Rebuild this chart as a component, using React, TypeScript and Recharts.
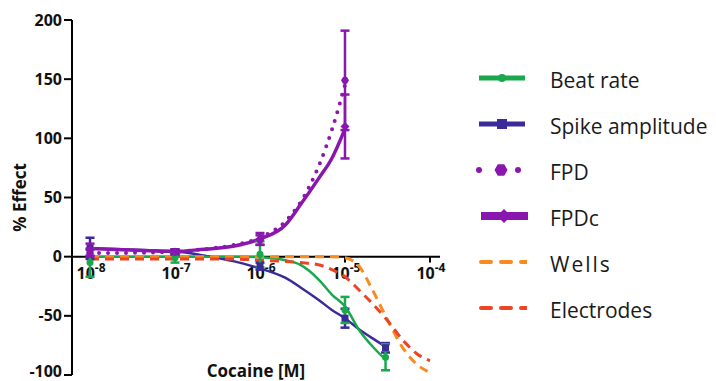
import React from "react";
import {
  ComposedChart,
  Line,
  Scatter,
  ErrorBar,
  XAxis,
  YAxis,
  ReferenceLine,
} from "recharts";

// measured concentrations (M)
const CONC = [1e-8, 1e-7, 1e-6, 1e-5, 3e-5];
const BEAT_MEAN = [-5, -1, 2, -45, -85];
const BEAT_SEM = [12, 4, 11, 11, 11];
const SPIKE_MEAN = [7, 4, -8, -52, -77];
const SPIKE_SEM = [9, 2, 3, 8, 4];
const FPD_MEAN = [3, 4, 14, 149, null];
const FPD_SEM = [3, 2, 4, 42, null];
const FPDC_MEAN = [6, 4, 15, 110, null];
const FPDC_SEM = [5, 2, 5, 27, null];

// fitted curves
const FIT_CONC = [
  1e-8, 2e-8, 5e-8, 1e-7, 2e-7, 5e-7, 1e-6, 2e-6, 3e-6, 5e-6, 7e-6, 1e-5,
  1.5e-5, 2e-5, 3e-5, 5e-5, 7e-5, 1e-4,
];
const BEAT_FIT = [0, 0, 0, 0, 0, 0, -0.5, -3, -7, -20, -32, -42, -63, -74, -87, null, null, null];
const SPIKE_FIT = [7, 6.5, 5.5, 4.5, 1.5, -4, -10, -18, -26, -37, -45, -52, -62, -68, -76, null, null, null];
const FPD_FIT = [3, 3, 3.5, 4, 6, 10, 16, 30, 46, 78, 107, 145, null, null, null, null, null, null];
const FPDC_FIT = [7, 6, 5, 4.5, 6, 9, 15, 27, 44, 67, 83, 108, null, null, null, null, null, null];
const WELLS_FIT = [0, 0, 0, 0, 0, 0, 0, 0, 0, 0, 0, -1, -9, -25, -50, -79, -91, -98];
const ELEC_FIT = [-2, -2, -2, -2, -2, -2, -3, -4, -5, -7, -11, -17, -29, -38, -52, -72, -82, -88];

const X_TICK_EXP = [-8, -7, -6, -5, -4];
const Y_TICKS = [-100, -50, 0, 50, 100, 150, 200];

const GREEN = "#19a84c";
const BLUE = "#3b2a9a";
const PURPLE = "#8a17ad";
const ORANGE = "#f78b1f";
const RED = "#ec4426";
const FONT = "'Open Sans', sans-serif";

const fitData = (vals: (number | null)[]) =>
  FIT_CONC.map((conc, i) => ({ conc, val: vals[i] })).filter((d) => d.val !== null);

const pointData = (means: (number | null)[], sems: (number | null)[]) =>
  CONC.map((conc, i) => ({ conc, val: means[i], err: sems[i] })).filter((d) => d.val !== null);

const circle = (r: number) => (p: any) => <circle cx={p.cx} cy={p.cy} r={r} fill={p.fill} />;
const square = (s: number) => (p: any) => (
  <rect x={p.cx - s / 2} y={p.cy - s / 2} width={s} height={s} fill={p.fill} />
);
const diamond = (s: number) => (p: any) => (
  <polygon
    points={`${p.cx},${p.cy - s} ${p.cx + s},${p.cy} ${p.cx},${p.cy + s} ${p.cx - s},${p.cy}`}
    fill={p.fill}
  />
);
const hexagon = (r: number) => (p: any) => {
  const pts = [0, 1, 2, 3, 4, 5]
    .map((k) => {
      const a = (Math.PI / 3) * k;
      return `${p.cx + r * Math.cos(a)},${p.cy + r * Math.sin(a)}`;
    })
    .join(" ");
  return <polygon points={pts} fill={p.fill} />;
};

const PowerLabel = ({ viewBox, exp }: any) => {
  if (!viewBox) return null;
  const x = viewBox.x + (viewBox.width || 0) / 2 + 1;
  const y = viewBox.y + 22;
  return (
    <text x={x} y={y} textAnchor="middle" fontFamily={FONT} fontWeight="bold" fill="#111">
      <tspan fontSize={16}>10</tspan>
      <tspan fontSize={12} dy={-7}>
        {exp}
      </tspan>
    </text>
  );
};

// y tick; the bottom one is nudged up so it stays inside the picture
const YTick = ({ x, y, payload }: any) => (
  <text
    x={x}
    y={y + (payload.value === Y_TICKS[0] ? 2 : 5.5)}
    textAnchor="end"
    fontFamily={FONT}
    fontWeight="bold"
    fontSize={16}
    fill="#111"
  >
    {payload.value}
  </text>
);

const LegendIcon = ({ kind }: { kind: string }) => {
  switch (kind) {
    case "beat":
      return (
        <svg width={52} height={20}>
          <line x1={4} y1={10} x2={50} y2={10} stroke={GREEN} strokeWidth={5} />
          <circle cx={27} cy={10} r={4} fill={GREEN} />
        </svg>
      );
    case "spike":
      return (
        <svg width={52} height={20}>
          <line x1={4} y1={10} x2={50} y2={10} stroke={BLUE} strokeWidth={5} />
          <rect x={22} y={5} width={10} height={10} fill={BLUE} />
        </svg>
      );
    case "fpd":
      return (
        <svg width={52} height={20}>
          <circle cx={4} cy={10} r={3} fill={PURPLE} />
          {hexagon(6.5)({ cx: 26, cy: 10, fill: PURPLE })}
          <circle cx={43} cy={10} r={3} fill={PURPLE} />
        </svg>
      );
    case "fpdc":
      return (
        <svg width={58} height={20}>
          <line x1={6} y1={10} x2={53} y2={10} stroke={PURPLE} strokeWidth={8} />
          {diamond(7)({ cx: 29, cy: 10, fill: PURPLE })}
        </svg>
      );
    default:
      return (
        <svg width={52} height={20}>
          <line
            x1={6}
            y1={10}
            x2={52}
            y2={10}
            stroke={kind === "wells" ? ORANGE : RED}
            strokeWidth={4}
            strokeDasharray="10 10"
            strokeLinecap="round"
          />
        </svg>
      );
  }
};

const LEGEND = [
  { kind: "beat", label: "Beat rate" },
  { kind: "spike", label: "Spike amplitude" },
  { kind: "fpd", label: "FPD" },
  { kind: "fpdc", label: "FPDc" },
  { kind: "wells", label: "Wells" },
  { kind: "electrodes", label: "Electrodes" },
];

export default function App() {
  return (
    <div style={{ position: "relative", width: 708, height: 373 }}>
      <ComposedChart
        width={708}
        height={373}
        margin={{ top: 12, right: 276, bottom: 0, left: 0 }}
      >
        <XAxis
          dataKey="conc"
          type="number"
          scale="log"
          domain={[Math.pow(10, -8.212), Math.pow(10, -3.882)]}
          allowDataOverflow
          axisLine={false}
          tickLine={false}
          tick={false}
          height={6}
          label={{
            value: "Cocaine [M]",
            position: "top",
            offset: -2,
            style: { fontFamily: FONT, fontWeight: "bold", fontSize: 17, fill: "#111" },
          }}
        />
        <YAxis
          type="number"
          domain={[-100, 200]}
          ticks={Y_TICKS}
          interval={0}
          width={64}
          axisLine={{ stroke: "#000", strokeWidth: 2 }}
          tickLine={{ stroke: "#000", strokeWidth: 2 }}
          tickSize={8}
          tick={<YTick />}
          label={{
            value: "% Effect",
            angle: -90,
            position: "insideLeft",
            offset: 12,
            style: { fontFamily: FONT, fontWeight: "bold", fontSize: 17, fill: "#111", textAnchor: "middle" },
          }}
        />
        <ReferenceLine y={0} stroke="#000" strokeWidth={2} />
        {X_TICK_EXP.map((e) => (
          <ReferenceLine
            key={e}
            segment={[
              { x: Math.pow(10, e), y: 0 },
              { x: Math.pow(10, e), y: -5 },
            ]}
            stroke="#000"
            strokeWidth={2}
            label={<PowerLabel exp={e} />}
          />
        ))}

        <Line data={fitData(SPIKE_FIT)} dataKey="val" type="monotone" stroke={BLUE} strokeWidth={2.5} dot={false} isAnimationActive={false} />
        <Line data={fitData(BEAT_FIT)} dataKey="val" type="monotone" stroke={GREEN} strokeWidth={2.5} dot={false} isAnimationActive={false} />
        <Line data={fitData(FPDC_FIT)} dataKey="val" type="monotone" stroke={PURPLE} strokeWidth={3.5} dot={false} isAnimationActive={false} />
        <Line data={fitData(FPD_FIT)} dataKey="val" type="monotone" stroke={PURPLE} strokeWidth={4} strokeDasharray="0 9" strokeLinecap="round" dot={false} isAnimationActive={false} />
        <Line data={fitData(WELLS_FIT)} dataKey="val" type="monotone" stroke={ORANGE} strokeWidth={3} strokeDasharray="9 6" dot={false} isAnimationActive={false} />
        <Line data={fitData(ELEC_FIT)} dataKey="val" type="monotone" stroke={RED} strokeWidth={3} strokeDasharray="9 6" dot={false} isAnimationActive={false} />

        <Scatter data={pointData(SPIKE_MEAN, SPIKE_SEM)} dataKey="val" fill={BLUE} shape={square(7)} isAnimationActive={false}>
          <ErrorBar dataKey="err" direction="y" width={4.5} stroke={BLUE} strokeWidth={2.5} />
        </Scatter>
        <Scatter data={pointData(BEAT_MEAN, BEAT_SEM)} dataKey="val" fill={GREEN} shape={circle(3.5)} isAnimationActive={false}>
          <ErrorBar dataKey="err" direction="y" width={4.5} stroke={GREEN} strokeWidth={2.5} />
        </Scatter>
        <Scatter data={pointData(FPDC_MEAN, FPDC_SEM)} dataKey="val" fill={PURPLE} shape={diamond(4.5)} isAnimationActive={false}>
          <ErrorBar dataKey="err" direction="y" width={4.5} stroke={PURPLE} strokeWidth={2.5} />
        </Scatter>
        <Scatter data={pointData(FPD_MEAN, FPD_SEM)} dataKey="val" fill={PURPLE} shape={hexagon(4)} isAnimationActive={false}>
          <ErrorBar dataKey="err" direction="y" width={4.5} stroke={PURPLE} strokeWidth={2.5} />
        </Scatter>
      </ComposedChart>

      <div style={{ position: "absolute", left: 467, top: 49, fontFamily: FONT }}>
        {LEGEND.map((item) => (
          <div key={item.kind} style={{ display: "flex", alignItems: "center", height: 46 }}>
            <div style={{ width: 75 }}>
              <LegendIcon kind={item.kind} />
            </div>
            <span style={{ fontSize: 21, color: "#1a1a1a", letterSpacing: item.kind === "wells" ? 2 : 0 }}>
              {item.label}
            </span>
          </div>
        ))}
      </div>
    </div>
  );
}
